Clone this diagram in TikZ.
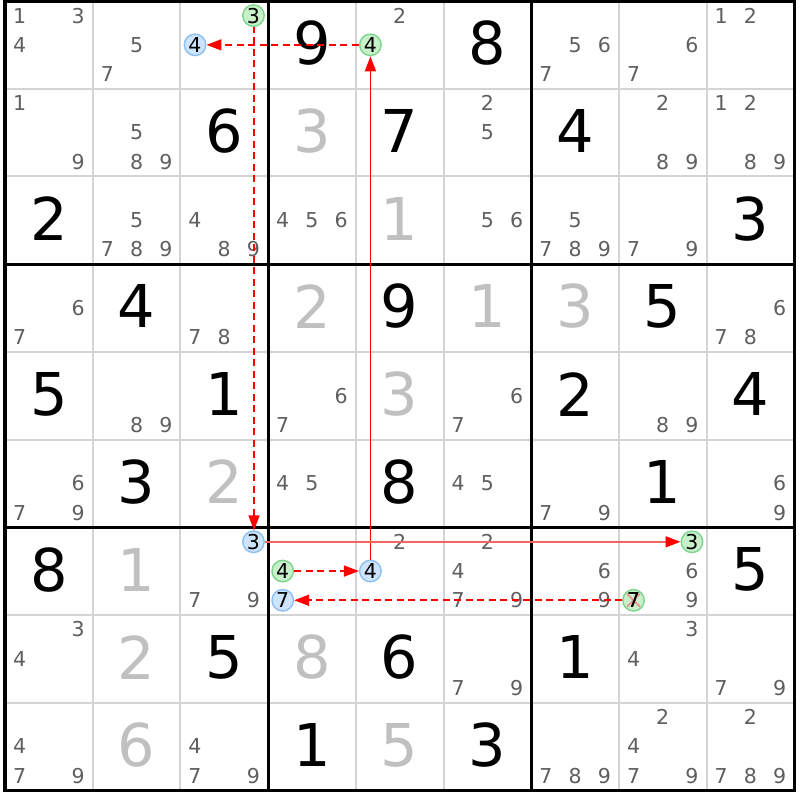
\documentclass[tikz,border=0pt]{standalone}
\usepackage{fontspec}
\setmainfont{DejaVu Sans}
\usetikzlibrary{arrows.meta}
\definecolor{candgray}{RGB}{95,95,95}
\definecolor{solvedgray}{RGB}{192,192,192}
\definecolor{gridgray}{RGB}{212,212,212}
\definecolor{gfill}{RGB}{200,240,202}
\definecolor{gline}{RGB}{125,212,140}
\definecolor{bfill}{RGB}{206,228,252}
\definecolor{bline}{RGB}{140,192,242}
\definecolor{linkred}{RGB}{255,0,0}
\definecolor{lightred}{RGB}{248,100,100}
\definecolor{xpink}{RGB}{242,140,140}
\newcommand\hlcand[5]{\node[#2] (#1) at ({5+(#4+(2*mod(#5-1,3)+1)/6)*87.7},{1+(#3+(2*floor((#5-1)/3)+1)/6)*87.7}) {#5};}
\begin{document}
\begin{tikzpicture}[x=1pt,y=-1pt,
  given/.style={font=\fontsize{59}{59}\selectfont, text=black, inner sep=0},
  solved/.style={font=\fontsize{59}{59}\selectfont, text=solvedgray, inner sep=0},
  cand/.style={font=\fontsize{20.5}{20.5}\selectfont, text=candgray, inner sep=0},
  greencand/.style={circle, draw=gline, fill=gfill, line width=1.4pt, minimum size=21.5pt, inner sep=0, font=\fontsize{20.5}{20.5}\selectfont, text=black},
  bluecand/.style={circle, draw=bline, fill=bfill, line width=1.4pt, minimum size=21.5pt, inner sep=0, font=\fontsize{20.5}{20.5}\selectfont, text=black},
  thingrid/.style={draw=gridgray, line width=2pt},
  thickgrid/.style={draw=black, line width=3pt},
  strong/.style={draw=linkred, line width=1.5pt, -{Triangle[length=15pt,width=11pt,color=linkred]}},
  weak/.style={draw=linkred, line width=1.6pt, dash pattern=on 7pt off 4.5pt, -{Triangle[length=15pt,width=11pt,color=linkred]}},
  weakrev/.style={draw=linkred, line width=1.6pt, dash pattern=on 7pt off 4.5pt, {Triangle[length=15pt,width=11pt,color=linkred]}-},
  crossout/.style={draw=xpink, line width=1.6pt}
]
\useasboundingbox (0,0) rectangle (800,800);
\fill[white] (0,0) rectangle (800,800);
% grid
\foreach \i in {1,2,4,5,7,8} {
  \draw[thingrid] ({5+\i*87.7},1) -- ({5+\i*87.7},{1+9*87.7});
  \draw[thingrid] (5,{1+\i*87.7}) -- ({5+9*87.7},{1+\i*87.7});
}
\foreach \i in {3,6} {
  \draw[thickgrid] ({5+\i*87.7},1) -- ({5+\i*87.7},{1+9*87.7});
  \draw[thickgrid] (5,{1+\i*87.7}) -- ({5+9*87.7},{1+\i*87.7});
}
\draw[draw=black, line width=3.5pt] (5,1.5) rectangle ({5+9*87.7},{1+9*87.7});
% given digits
\foreach \r/\c/\d in {0/3/9,0/5/8,1/2/6,1/4/7,1/6/4,2/0/2,2/8/3,3/1/4,3/4/9,3/7/5,4/0/5,4/2/1,4/6/2,4/8/4,5/1/3,5/4/8,5/7/1,6/0/8,6/8/5,7/2/5,7/4/6,7/6/1,8/3/1,8/5/3}
  \node[given] (g\r\c) at ({5+(\c+0.5)*87.7},{1+(\r+0.5)*87.7-1.5}) {\d};
% solved digits
\foreach \r/\c/\d in {1/3/3,2/4/1,3/3/2,3/5/1,3/6/3,4/4/3,5/2/2,6/1/1,7/1/2,7/3/8,8/1/6,8/4/5}
  \node[solved] (s\r\c) at ({5+(\c+0.5)*87.7},{1+(\r+0.5)*87.7-1.5}) {\d};
% candidates
\foreach \r/\c/\l in {0/0/{1,3,4},0/1/{5,7},0/4/{2},0/6/{5,6,7},0/7/{6,7},0/8/{1,2},
  1/0/{1,9},1/1/{5,8,9},1/5/{2,5},1/7/{2,8,9},1/8/{1,2,8,9},
  2/1/{5,7,8,9},2/2/{4,8,9},2/3/{4,5,6},2/5/{5,6},2/6/{5,7,8,9},2/7/{7,9},
  3/0/{6,7},3/2/{7,8},3/8/{6,7,8},
  4/1/{8,9},4/3/{6,7},4/5/{6,7},4/7/{8,9},
  5/0/{6,7,9},5/3/{4,5},5/5/{4,5},5/6/{7,9},5/8/{6,9},
  6/2/{7,9},6/4/{2},6/5/{2,4,7,9},6/6/{6,9},6/7/{6,9},
  7/0/{3,4},7/5/{7,9},7/7/{3,4},7/8/{7,9},
  8/0/{4,7,9},8/2/{4,7,9},8/6/{7,8,9},8/7/{2,4,7,9},8/8/{2,7,8,9}} {
  \foreach \k in \l {
    \pgfmathsetmacro\px{5+(\c+(2*mod(\k-1,3)+1)/6)*87.7}
    \pgfmathsetmacro\py{1+(\r+(2*floor((\k-1)/3)+1)/6)*87.7}
    \node[cand] (c\r\c\k) at (\px,\py) {\k};
  }
}
% highlighted candidates
\hlcand{hlA}{greencand}{0}{2}{3}
\hlcand{hlB}{bluecand}{0}{2}{4}
\hlcand{hlC}{greencand}{0}{4}{4}
\hlcand{hlD}{bluecand}{6}{2}{3}
\hlcand{hlE}{greencand}{6}{3}{4}
\hlcand{hlF}{bluecand}{6}{3}{7}
\hlcand{hlG}{bluecand}{6}{4}{4}
\hlcand{hlH}{greencand}{6}{7}{3}
\hlcand{hlI}{greencand}{6}{7}{7}
\draw[crossout] ([shift={(-6.5,-6.5)}]hlI.center) -- ([shift={(6.5,6.5)}]hlI.center);
\draw[crossout] ([shift={(-6.5,6.5)}]hlI.center) -- ([shift={(6.5,-6.5)}]hlI.center);
\node[greencand, fill=none, draw=none] (hlItext) at (hlI) {7};
% links
\draw[weak] (hlC.west) -- (hlB.east);
\draw[weakrev] ([xshift=0.5pt]hlD.north) -- ([xshift=0.5pt]hlA.south);
\draw[strong] (hlG.north) -- (hlC.south);
\draw[strong, draw=lightred] (hlD.east) -- (hlH.west);
\draw[weak] (hlE.east) -- (hlG.west);
\draw[weak] (hlI.west) -- (hlF.east);
\end{tikzpicture}
\end{document}
